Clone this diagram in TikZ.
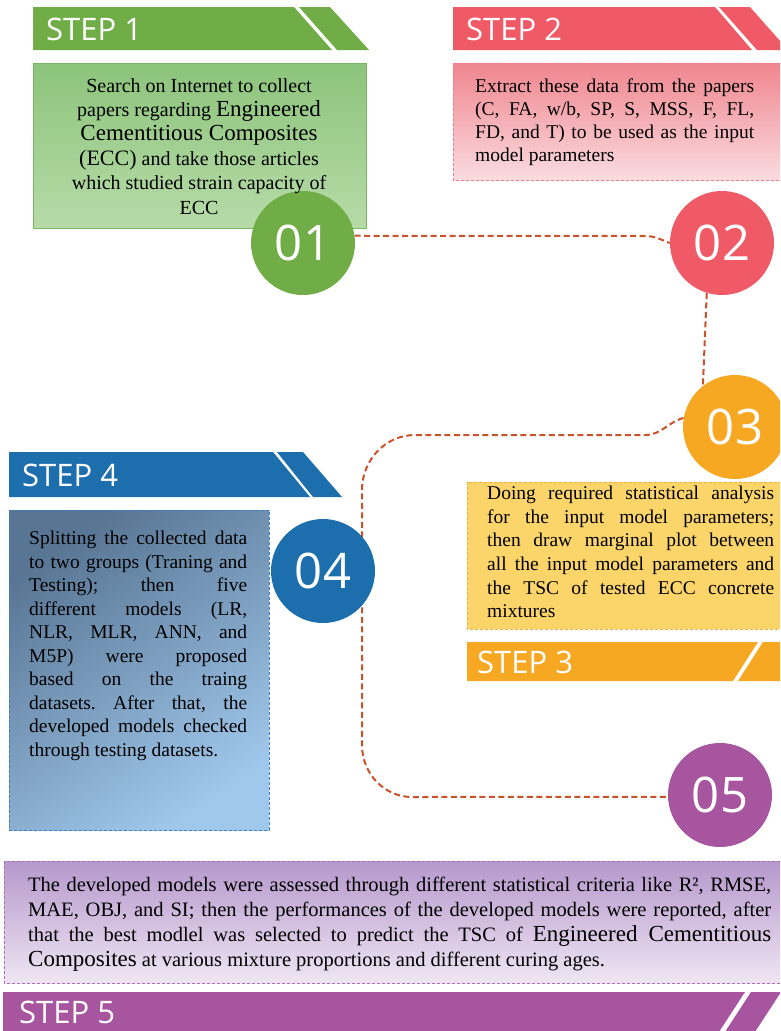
\documentclass[tikz,border=0pt]{standalone}
\usepackage{fontspec}
\setmainfont{Liberation Serif}
\newfontfamily\stepfont{Open Sans}
\frenchspacing
\definecolor{greenA}{HTML}{70AD47}
\definecolor{greenTop}{HTML}{8CC47B}
\definecolor{greenBot}{HTML}{B7DBA8}
\definecolor{greenLine}{HTML}{7AB662}
\definecolor{redA}{HTML}{EF5A66}
\definecolor{redTop}{HTML}{F0858E}
\definecolor{redBot}{HTML}{FADCE0}
\definecolor{redLine}{HTML}{F07C86}
\definecolor{orA}{HTML}{F7A823}
\definecolor{orFill}{HTML}{FCD56A}
\definecolor{orLine}{HTML}{F0B040}
\definecolor{blueA}{HTML}{1C6EAD}
\definecolor{blueTop}{HTML}{587593}
\definecolor{blueBot}{HTML}{A0C8EC}
\definecolor{blueLine}{HTML}{3D7EC1}
\definecolor{purA}{HTML}{A7559F}
\definecolor{purTop}{HTML}{B598CC}
\definecolor{purBot}{HTML}{EFE6F3}
\definecolor{purLine}{HTML}{B06CB5}
\definecolor{connc}{HTML}{C9512B}
\pgfdeclarelayer{back}
\pgfdeclarelayer{mid}
\pgfsetlayers{back,mid,main}
\begin{document}
\begin{tikzpicture}[x=1pt,y=1pt,
  conn/.style={draw=connc, line width=2pt, dash pattern=on 6pt off 3.5pt},
  circ/.style={circle, minimum size=104pt, inner sep=0pt, text=white,
    font=\stepfont\fontsize{49}{49}\selectfont},
  steplabel/.style={anchor=base west, inner sep=0pt, text=white,
    font=\stepfont\fontsize{31}{31}\selectfont},
  bodytext/.style={inner sep=0pt, anchor=north west, align=justify,
    font=\fontsize{19.5}{23.5}\selectfont},
  dashbox/.style={line width=0.8pt, dash pattern=on 3pt off 2pt},
]
\useasboundingbox (0,0) rectangle (780,-1031);

\begin{pgfonlayer}{back}
\clip (0,0) rectangle (780,-1031);
\fill[white] (0,0) rectangle (780,-1031);
% STEP 1
\fill[greenA] (33,-7) -- (294,-7) -- (332,-50) -- (33,-50) -- cycle;
\fill[greenA] (299,-7) -- (330,-7) -- (369,-50) -- (337,-50) -- cycle;
\path[draw=greenLine, line width=0.8pt, top color=greenTop, bottom color=greenBot] (33,-63) rectangle (366,-228);
% STEP 2
\fill[redA] (453,-7) -- (715,-7) -- (752,-50) -- (453,-50) -- cycle;
\fill[redA] (719,-7) -- (750,-7) -- (788,-50) -- (757,-50) -- cycle;
\path[draw=redLine, dashbox, top color=redTop, bottom color=redBot] (453,-63) rectangle (790,-180);
% STEP 3
\path[draw=orLine, dashbox, fill=orFill] (467,-482) rectangle (790,-629);
\fill[orA] (467,-642) -- (758,-642) -- (733,-681) -- (467,-681) -- cycle;
\fill[orA] (763,-642) -- (800,-642) -- (800,-681) -- (738,-681) -- cycle;
% STEP 4
\fill[blueA] (9,-452) -- (273,-452) -- (310,-497) -- (9,-497) -- cycle;
\fill[blueA] (277,-452) -- (303,-452) -- (342,-497) -- (313,-497) -- cycle;
\path[draw=blueLine, dashbox, top color=blueTop, bottom color=blueBot, shading angle=35] (9,-510) rectangle (269,-830);
% STEP 5
\path[draw=purLine, dashbox, top color=purTop, bottom color=purBot] (4,-861) rectangle (790,-983);
\fill[purA] (3,-992) -- (745,-992) -- (717,-1035) -- (3,-1035) -- cycle;
\fill[purA] (751,-992) -- (781,-992) -- (753,-1035) -- (723,-1035) -- cycle;
\end{pgfonlayer}

% circles
\begin{scope}
\clip (0,0) rectangle (780,-1031);
\node[circ, fill=greenA] (c1) at (303,-243) {01};
\node[circ, fill=redA] (c2) at (722,-243) {02};
\node[circ, fill=orA] (c3) at (735,-427) {03};
\node[circ, fill=blueA] (c4) at (323,-571) {04};
\node[circ, fill=purA] (c5) at (720,-795) {05};
\end{scope}

\begin{pgfonlayer}{mid}
\draw[conn] (c1.8) -- (645,-236) to[out=0,in=160] (c2.west);
\draw[conn] (c2.253) -- (c3.128);
\draw[conn] (c3.170) to[out=195,in=0] (645,-435) -- (415,-435)
  to[out=180,in=90] (362,-490) -- (362,-745)
  to[out=-90,in=180] (412,-797) -- (c5.182);
\end{pgfonlayer}

% step labels
\node[steplabel] (s1) at (46,-40) {STEP 1};
\node[steplabel] (s2) at (466,-40) {STEP 2};
\node[steplabel] (s3) at (477,-673) {STEP 3};
\node[steplabel] (s4) at (22,-486) {STEP 4};
\node[steplabel] (s5) at (19,-1023) {STEP 5};

% texts
\node[inner sep=0pt, anchor=north, align=center, font=\fontsize{20}{24.4}\selectfont] (t1) at (199,-78) {%
Search on Internet to collect\\
papers regarding {\fontsize{23}{24.4}\selectfont Engineered}\\
{\fontsize{23}{24.4}\selectfont Cementitious Composites}\\
{\fontsize{22}{24.4}\selectfont (ECC)} and take those articles\\
which studied strain capacity of\\
ECC};

\node[bodytext, text width=279pt, font=\fontsize{19.5}{23}\selectfont] (t2) at (475,-79) {%
Extract these data from the papers\linebreak
(C, FA, w/b, SP, S, MSS, F, FL,\linebreak
FD, and T) to be used as the input\linebreak
model parameters};

\node[bodytext, text width=287pt, font=\fontsize{19.5}{23.6}\selectfont] (t3) at (487,-486) {%
Doing required statistical analysis\linebreak
for the input model parameters;\linebreak
then draw marginal plot between\linebreak
all the input model parameters and\linebreak
the TSC of tested ECC concrete\linebreak
mixtures};

\node[bodytext, text width=218pt] (t4) at (29,-531) {%
Splitting the collected data\linebreak
to two groups (Traning and\linebreak
Testing); then five\linebreak
different models (LR,\linebreak
NLR, MLR, ANN, and\linebreak
M5P) were proposed\linebreak
based on the traing\linebreak
datasets. After that, the\linebreak
developed models checked\linebreak
through testing datasets.};

\node[bodytext, text width=743pt, font=\fontsize{20.5}{25}\selectfont] (t5) at (28,-877) {%
The developed models were assessed through different statistical criteria like R², RMSE,\linebreak
MAE, OBJ, and SI; then the performances of the developed models were reported, after\linebreak
that the best modlel was selected to predict the TSC of {\fontsize{23}{25}\selectfont Engineered Cementitious}\linebreak
{\fontsize{23}{25}\selectfont Composites} at various mixture proportions and different curing ages.};
\end{tikzpicture}
\end{document}
